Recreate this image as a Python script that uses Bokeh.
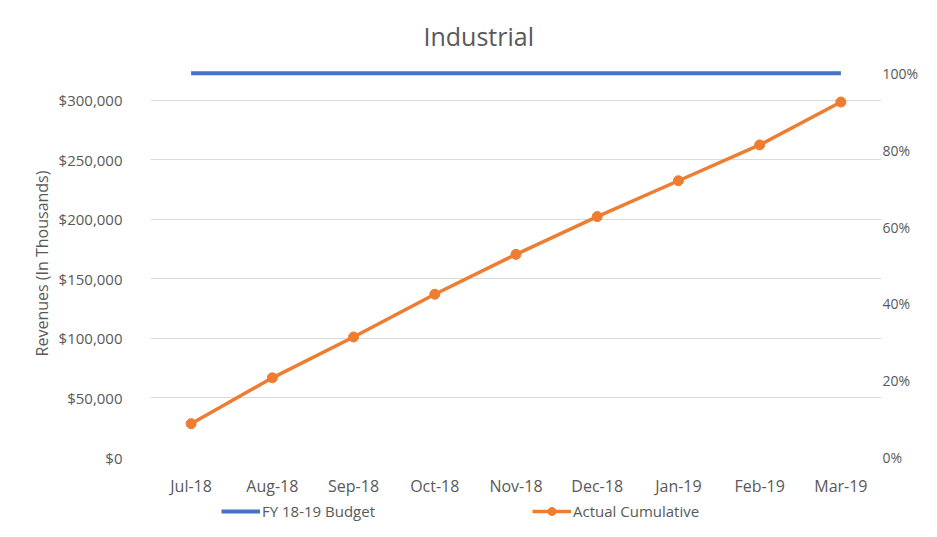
from bokeh.plotting import figure
from bokeh.layouts import column
from bokeh.models import (Range1d, LinearAxis, NumeralTickFormatter, FixedTicker,
                          Legend, LegendItem, ColumnDataSource)
from bokeh.embed import file_html
from bokeh.resources import INLINE

months = ["Jul-18", "Aug-18", "Sep-18", "Oct-18", "Nov-18", "Dec-18", "Jan-19", "Feb-19", "Mar-19"]
actual_cumulative = [28400, 66900, 101200, 137100, 170600, 202300, 232400, 262500, 298500]
budget_pct = [1.0] * 9
left_ticks = [0, 50000, 100000, 150000, 200000, 250000, 300000]
right_ticks = [0, 0.2, 0.4, 0.6, 0.8, 1.0]
budget_total = 322600

FONT = "Open Sans"
GRAY = "#595959"
BLUE = "#4472C4"
ORANGE = "#ED7D31"
TOP_PAD = 1.01

p = figure(width=921, height=499, x_range=months, y_range=Range1d(0, budget_total * TOP_PAD),
           output_backend="svg", toolbar_location=None,
           min_border_left=150, min_border_right=36, min_border_top=68, min_border_bottom=41)
p.extra_y_ranges = {"pct": Range1d(0, TOP_PAD)}

p.title.text = "Industrial"
p.title.align = "left"
p.title.offset = 273
p.title.text_font = FONT
p.title.text_font_size = "25px"
p.title.text_font_style = "normal"
p.title.text_color = GRAY
p.title.standoff = 33

p.outline_line_color = None
p.x_range.range_padding = 0

src = ColumnDataSource(dict(m=months, a=actual_cumulative, b=budget_pct))

p.line("m", "b", source=src, y_range_name="pct", line_color=BLUE, line_width=4)
p.line("m", "a", source=src, line_color=ORANGE, line_width=3.5)
p.scatter("m", "a", source=src, size=10, fill_color=ORANGE, line_color=ORANGE)

# Axes
yl = p.yaxis[0]
yl.ticker = FixedTicker(ticks=left_ticks)
yl.formatter = NumeralTickFormatter(format="$0,0")
yl.axis_label = "Revenues (In Thousands)"
yr = LinearAxis(y_range_name="pct", ticker=FixedTicker(ticks=right_ticks),
                formatter=NumeralTickFormatter(format="0%"))
p.add_layout(yr, "right")

for ax in [yl, yr, p.xaxis[0]]:
    ax.axis_line_color = None
    ax.major_tick_line_color = None
    ax.minor_tick_line_color = None
    ax.major_tick_in = 0
    ax.major_tick_out = 0
    ax.minor_tick_out = 0
    ax.major_label_text_font = FONT
    ax.major_label_text_font_size = "16px"
    ax.major_label_text_color = GRAY
yl.major_label_text_font_size = "15px"
yr.major_label_text_font_size = "14px"
yl.axis_label_text_font = FONT
yl.axis_label_text_font_size = "16px"
yl.axis_label_text_font_style = "normal"
yl.axis_label_text_color = GRAY
yl.axis_label_standoff = 3
yl.major_label_standoff = 28
yr.major_label_standoff = 1
yr.axis_label_standoff = 0
p.xaxis[0].major_label_standoff = 17

p.xgrid.grid_line_color = None
p.ygrid[0].ticker = FixedTicker(ticks=left_ticks)
p.ygrid.grid_line_color = "#d9d9d9"
p.ygrid.grid_line_width = 1

# Legend strip below the chart; its helper renderers use the real data but lie outside the visible range
lg = figure(width=921, height=22, x_range=months, y_range=Range1d(-2, -1),
            x_axis_type=None, y_axis_type=None, output_backend="svg", toolbar_location=None,
            min_border=0)
lg.outline_line_color = None
lg.grid.grid_line_color = None
lb = lg.line("m", "b", source=src, line_color=BLUE, line_width=4)
la = lg.line("m", "a", source=src, line_color=ORANGE, line_width=3.5)
ls = lg.scatter("m", "a", source=src, size=10, fill_color=ORANGE, line_color=ORANGE)
legend = Legend(items=[LegendItem(label="FY 18-19 Budget", renderers=[lb]),
                       LegendItem(label="Actual Cumulative", renderers=[la, ls])],
                orientation="horizontal", location=(71, 0), spacing=120, label_width=150,
                glyph_width=39, glyph_height=20, label_standoff=2,
                label_text_font=FONT, label_text_font_size="15px", label_text_color=GRAY,
                border_line_color=None, background_fill_alpha=0, padding=0, margin=0)
lg.add_layout(legend, "center")

open("out.html", "w").write(file_html(column(p, lg, spacing=0), INLINE))
